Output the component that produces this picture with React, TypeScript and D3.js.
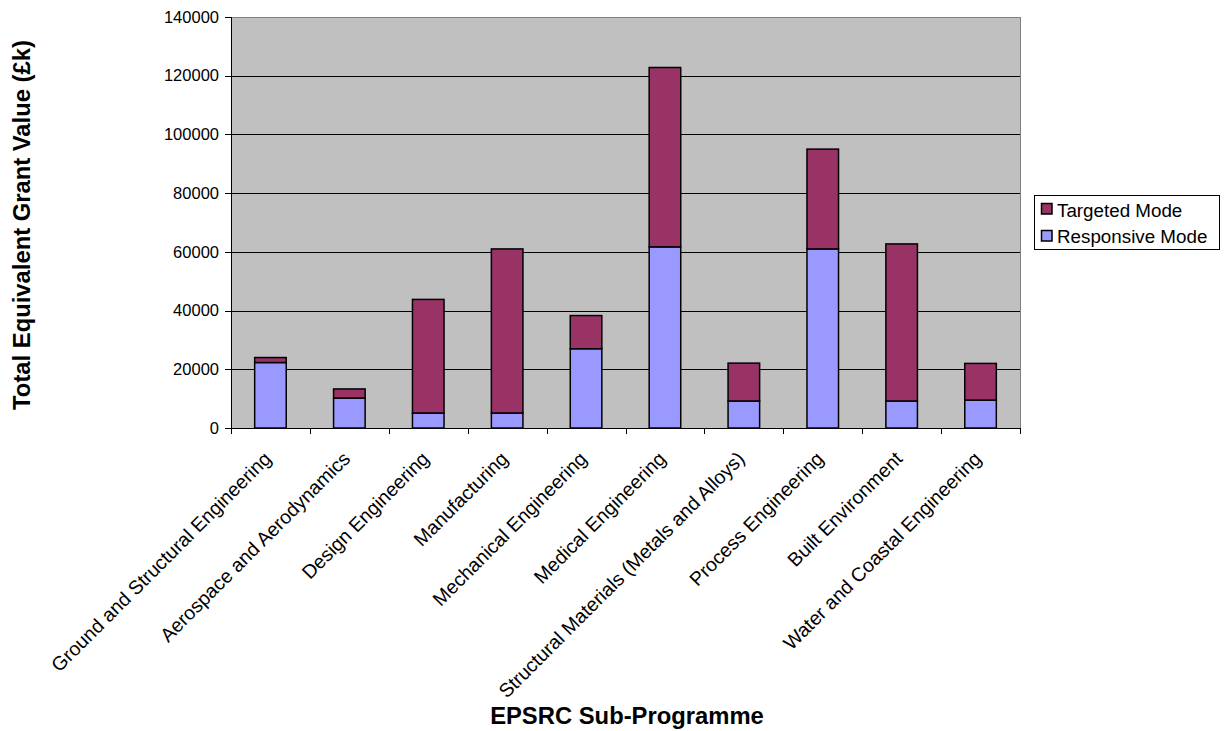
import React from "react";
import * as d3 from "d3";

const categories = [
  "Ground and Structural Engineering",
  "Aerospace and Aerodynamics",
  "Design Engineering",
  "Manufacturing",
  "Mechanical Engineering",
  "Medical Engineering",
  "Structural Materials (Metals and Alloys)",
  "Process Engineering",
  "Built Environment",
  "Water and Coastal Engineering",
];
const responsive = [22300, 10200, 5100, 5100, 27000, 61700, 9200, 61000, 9200, 9500];
const targeted = [1700, 3100, 38700, 55900, 11300, 61100, 12900, 34000, 53500, 12500];
const yTicks = [0, 20000, 40000, 60000, 80000, 100000, 120000, 140000];
const seriesNames = ["Responsive Mode", "Targeted Mode"];
const colors = ["#9999FF", "#993366"];

export default function App() {
  const W = 1230, H = 731;
  const left = 231, right = 1020, top = 17, bottom = 428;
  const font = "'Liberation Sans', Arial, sans-serif";

  const x = d3.scaleBand<string>().domain(categories).range([left, right]).paddingInner(0.6).paddingOuter(0.3);
  const band = d3.scaleBand<string>().domain(categories).range([left, right]);
  const y = d3.scaleLinear().domain([0, 140000]).range([bottom, top]);

  const data = categories.map((c, i) => ({ cat: c, Responsive: responsive[i], Targeted: targeted[i] }));
  const stack = d3.stack<any>().keys(["Responsive", "Targeted"]);
  const layers = stack(data);

  const boundaries = categories.map((c) => band(c)!).concat([right]);

  return (
    <svg width={W} height={H} style={{ position: "absolute", left: 0, top: 0, display: "block", background: "#fff" }}>
      <rect x={left} y={top} width={right - left} height={bottom - top} fill="#C0C0C0" />
      {yTicks.filter((t) => t > 0 && t < 140000).map((t) => (
        <line key={t} x1={left} x2={right} y1={Math.round(y(t)) + 0.5} y2={Math.round(y(t)) + 0.5} stroke="#000" strokeWidth={1} />
      ))}
      <line x1={left} x2={right} y1={top + 0.5} y2={top + 0.5} stroke="#808080" strokeWidth={1} />
      <line x1={right + 0.5} x2={right + 0.5} y1={top} y2={bottom} stroke="#808080" strokeWidth={1} />
      {layers.map((layer, li) =>
        layer.map((d, i) => (
          <rect
            key={li + "-" + i}
            x={x(categories[i])}
            y={y(d[1])}
            width={x.bandwidth()}
            height={y(d[0]) - y(d[1])}
            fill={colors[li]}
            stroke="#000"
            strokeWidth={1.5}
          />
        ))
      )}
      {/* axes */}
      <line x1={left + 0.5} x2={left + 0.5} y1={top} y2={bottom} stroke="#000" strokeWidth={1} />
      <line x1={left - 6} x2={right + 1} y1={bottom + 0.5} y2={bottom + 0.5} stroke="#000" strokeWidth={1} />
      {yTicks.map((t) => (
        <g key={t}>
          <line x1={left - 6} x2={left} y1={Math.round(y(t)) + 0.5} y2={Math.round(y(t)) + 0.5} stroke="#000" />
          <text x={219} y={y(t)} dy="0.35em" textAnchor="end" fontFamily={font} fontSize={16.5} fill="#000">
            {t}
          </text>
        </g>
      ))}
      {boundaries.map((b, i) => (
        <line key={i} x1={Math.round(b) + 0.5} x2={Math.round(b) + 0.5} y1={bottom} y2={bottom + 6} stroke="#000" />
      ))}
      {categories.map((c) => {
        const cx = band(c)! + band.bandwidth() / 2;
        return (
          <text
            key={c}
            transform={`translate(${cx + 2},${460}) rotate(-45)`}
            textAnchor="end"
            fontFamily={font}
            fontSize={19.5}
            fill="#000"
          >
            {c}
          </text>
        );
      })}
      <text
        transform={`translate(30,225) rotate(-90)`}
        textAnchor="middle"
        fontFamily={font}
        fontWeight="bold"
        fontSize={23.8}
        fill="#000"
      >
        Total Equivalent Grant Value (£k)
      </text>
      <text x={627} y={724} textAnchor="middle" fontFamily={font} fontWeight="bold" fontSize={23.8} fill="#000">
        EPSRC Sub-Programme
      </text>
      {/* legend */}
      <rect x={1034.5} y={195.5} width={185} height={54} fill="#fff" stroke="#000" strokeWidth={1} />
      {[1, 0].map((si, k) => (
        <g key={si}>
          <rect x={1041.5} y={203.5 + k * 27} width={10.5} height={10.5} fill={colors[si]} stroke="#000" strokeWidth={1.5} />
          <text x={1057} y={210 + k * 26} dy="0.35em" fontFamily={font} fontSize={18.8} fill="#000">
            {seriesNames[si]}
          </text>
        </g>
      ))}
    </svg>
  );
}
